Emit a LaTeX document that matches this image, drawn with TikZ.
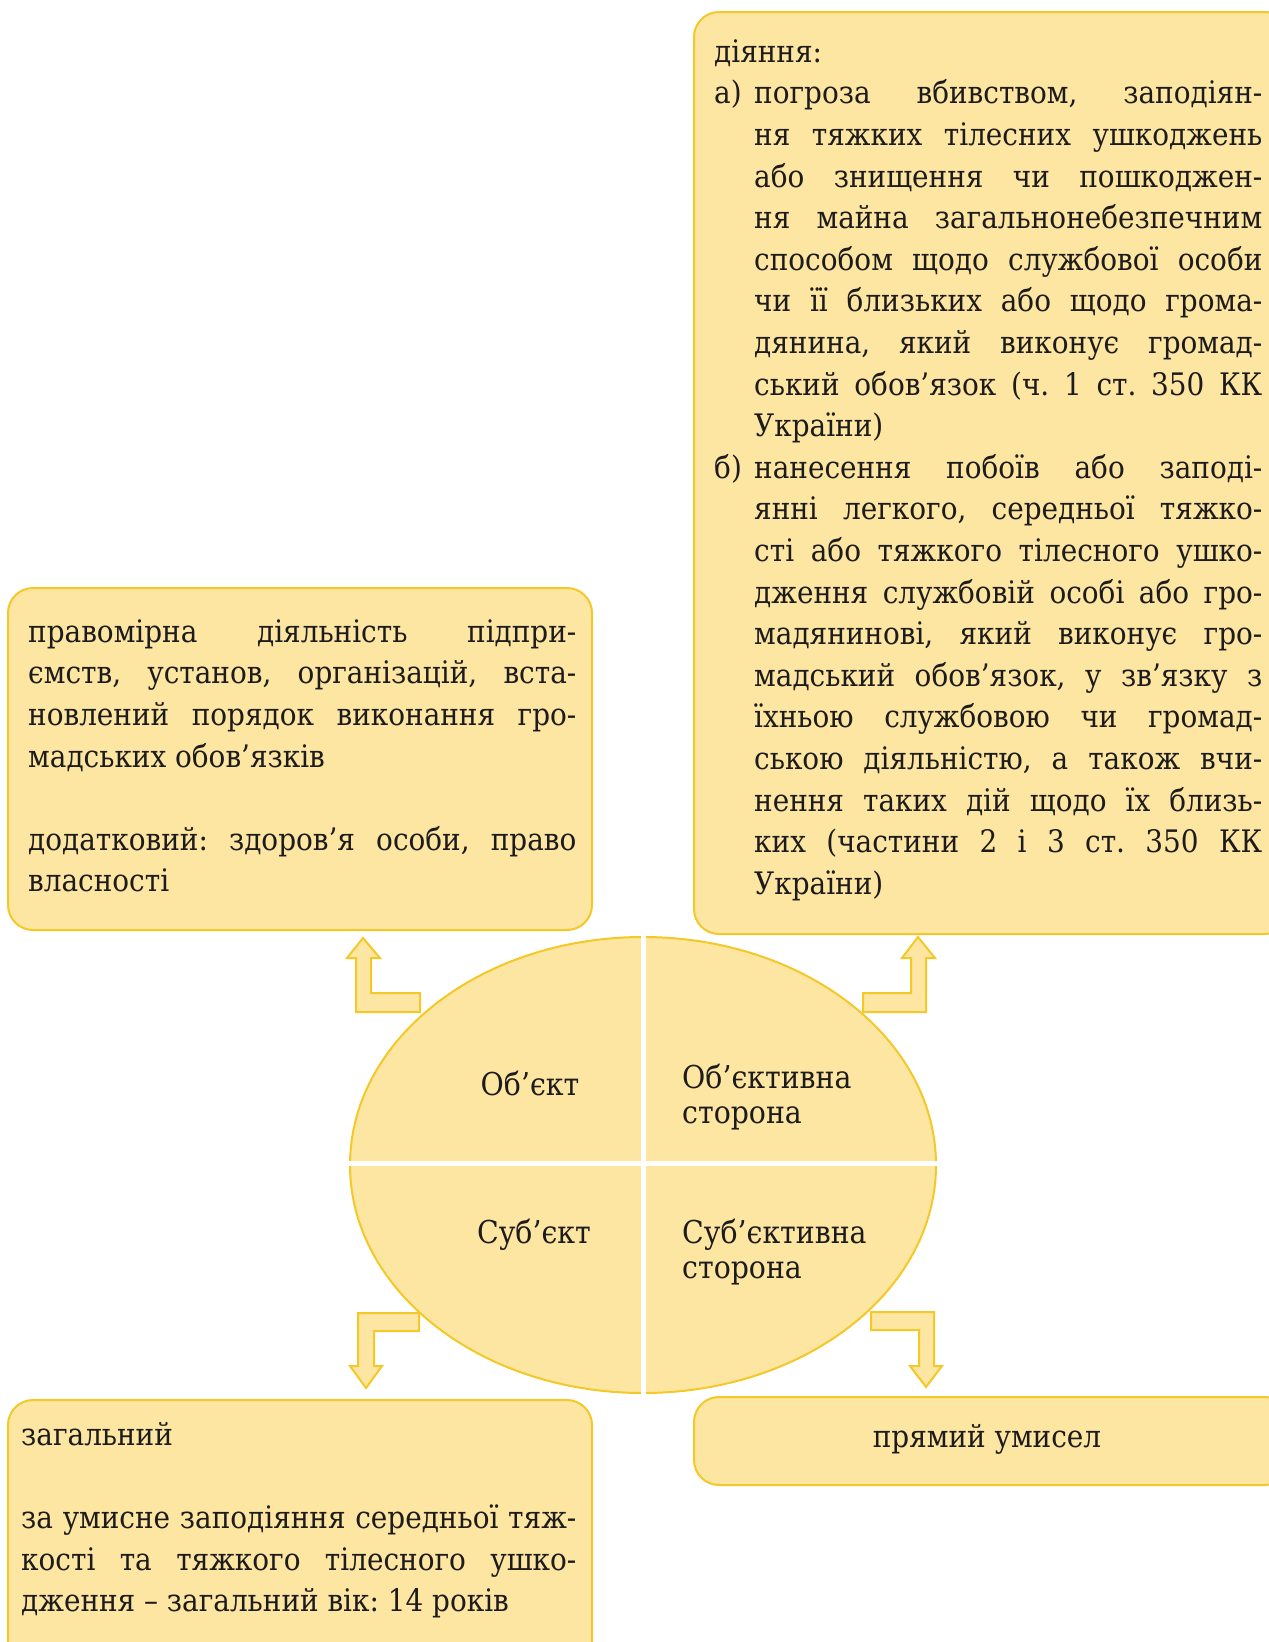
\documentclass[tikz,border=0pt]{standalone}
\usepackage{fontspec}
\setmainfont{DejaVu Serif Condensed}
\definecolor{boxfill}{RGB}{252,230,161}
\definecolor{boxline}{RGB}{244,200,40}
\definecolor{txt}{RGB}{30,27,28}
\newdimen\tw
\newcommand\jline[1]{\hbox to \tw{\strut #1}}
\newcommand\lline[1]{\hbox to \tw{\strut #1\hfil}}
\newcommand\ijline[1]{\hbox to \tw{\strut\hskip40pt #1}}
\newcommand\illine[1]{\hbox to \tw{\strut\hskip40pt #1\hfil}}
\newcommand\itemline[2]{\hbox to \tw{\strut\hbox to 40pt{#1\hfil}#2}}
\newcommand\blankline{\hbox{\strut}}
\newcommand\textblock[2]{\vbox{\frenchspacing\tw=#1\relax #2}}
\tikzset{
  panel/.style={draw=boxline, fill=boxfill, line width=2pt, rounded corners=25pt},
  bodytext/.style={inner sep=0pt, anchor=north west, text=txt,
    font=\fontsize{31}{41.6}\selectfont},
  bentarrow/.style={draw=boxline, fill=boxfill, line width=2pt, line join=miter},
  quadtext/.style={inner sep=0pt, text=txt, font=\fontsize{31.5}{35}\selectfont},
  divider/.style={draw=white, line width=5pt}
}
\begin{document}
\begin{tikzpicture}[x=1pt,y=-1pt]
\useasboundingbox (0,0) rectangle (1269,1642);
\clip (0,0) rectangle (1269,1642);
% central ellipse
\draw[panel, rounded corners=0pt] (643,1165) ellipse [x radius=293, y radius=228];
\draw[divider] (643,932) -- (643,1398);
\draw[divider] (346,1163) -- (940,1163);
% boxes
\draw[panel] (8,588) rectangle (592,930);
\draw[panel] (694,12) rectangle (1290,934);
\draw[panel] (8,1400) rectangle (592,1670);
\draw[panel] (694,1397) rectangle (1290,1485);
% bent arrows
\draw[bentarrow] (363,938) -- (380,958) -- (371,958) -- (371,993) -- (420,993) -- (420,1012) -- (356,1012) -- (356,958) -- (347,958) -- cycle;
\draw[bentarrow] (918,937) -- (935,958) -- (926,958) -- (926,1012) -- (863,1012) -- (863,993) -- (911,993) -- (911,958) -- (902,958) -- cycle;
\draw[bentarrow] (419,1313) -- (358,1313) -- (358,1366) -- (350,1366) -- (366,1388) -- (382,1366) -- (374,1366) -- (374,1331) -- (419,1331) -- cycle;
\draw[bentarrow] (871,1312) -- (934,1312) -- (934,1366) -- (942,1366) -- (926,1387) -- (910,1366) -- (919,1366) -- (919,1330) -- (871,1330) -- cycle;
% quadrant labels
\node[quadtext, anchor=base] (obj) at (530,1095) {Об’єкт};
\node[quadtext, anchor=base] (subj) at (534,1243) {Суб’єкт};
\node[quadtext, anchor=north west, text width=230pt, align=left] (objside) at (682,1064) {\strut Об’єктивна\\ сторона};
\node[quadtext, anchor=north west, text width=230pt, align=left] (subjside) at (682,1219) {\strut Суб’єктивна\\ сторона};
% box texts
\node[bodytext] (objtext) at (28,613) {\textblock{548pt}{%
\jline{правомірна діяльність підпри-}
\jline{ємств, установ, організацій, вста-}
\jline{новлений порядок виконання гро-}
\lline{мадських обов’язків}
\blankline
\jline{додатковий: здоров’я особи, право}
\lline{власності}}};
\node[bodytext] (acttext) at (714,33) {\textblock{548pt}{%
\lline{діяння:}
\itemline{а)}{погроза вбивством, заподіян-}
\ijline{ня тяжких тілесних ушкоджень}
\ijline{або знищення чи пошкоджен-}
\ijline{ня майна загальнонебезпечним}
\ijline{способом щодо службової особи}
\ijline{чи її близьких або щодо грома-}
\ijline{дянина, який виконує громад-}
\ijline{ський обов’язок (ч. 1 ст. 350 КК}
\illine{України)}
\itemline{б)}{нанесення побоїв або заподі-}
\ijline{янні легкого, середньої тяжко-}
\ijline{сті або тяжкого тілесного ушко-}
\ijline{дження службовій особі або гро-}
\ijline{мадянинові, який виконує гро-}
\ijline{мадський обов’язок, у зв’язку з}
\ijline{їхньою службовою чи громад-}
\ijline{ською діяльністю, а також вчи-}
\ijline{нення таких дій щодо їх близь-}
\ijline{ких (частини 2 і 3 ст. 350 КК}
\illine{України)}}};
\node[bodytext] (subjtext) at (21,1416) {\textblock{555pt}{%
\lline{загальний}
\blankline
\jline{за умисне заподіяння середньої тяж-}
\jline{кості та тяжкого тілесного ушко-}
\lline{дження – загальний вік: 14 років}}};
\node[bodytext, anchor=base] (mindtext) at (987,1447) {прямий умисел};
\end{tikzpicture}
\end{document}
